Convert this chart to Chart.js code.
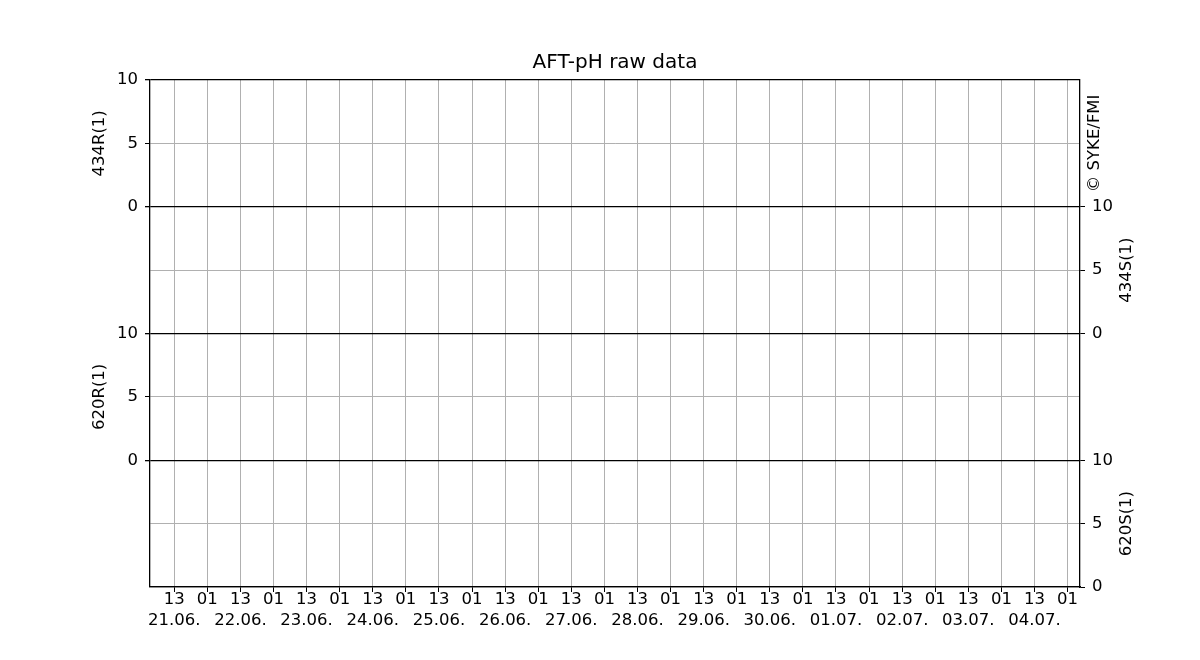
<!DOCTYPE html>
<html lang="en">
<head>
  <meta charset="UTF-8" />
  <title>AFT-pH raw data</title>
  <script src="https://cdn.jsdelivr.net/npm/chart.js"></script>
  <style>
    body {
      margin: 0;
      background-color: #ffffff;
    }

    .chart-container {
      width: 1200px;
      height: 660px;
    }
  </style>
</head>
<body>
  <div class="chart-container">
    <canvas id="phChart"></canvas>
  </div>

  <script>
    // panels from top to bottom, each one has its own 0..10 axis
    const panelNames = ["434R(1)", "434S(1)", "620R(1)", "620S(1)"];
    const panelSides = ["left", "right", "left", "right"];
    const panelTicks = [0, 5, 10];

    // raw data per panel (nothing was recorded in this period)
    const data434R = [];
    const data434S = [];
    const data620R = [];
    const data620S = [];

    // time axis in hours from 21.06. 00:00
    const xMin = 4.2;
    const xMax = 341.5;
    const tickHours = [13, 25, 37, 49, 61, 73, 85, 97, 109, 121, 133, 145, 157, 169,
                       181, 193, 205, 217, 229, 241, 253, 265, 277, 289, 301, 313, 325, 337];
    const hourLabels = ["13", "01"];
    const dateLabels = ["21.06.", "22.06.", "23.06.", "24.06.", "25.06.", "26.06.", "27.06.",
                        "28.06.", "29.06.", "30.06.", "01.07.", "02.07.", "03.07.", "04.07."];

    const FONT = "'DejaVu Sans', sans-serif";
    const GRID_GREY = "#b0b0b0";
    const nPanels = panelNames.length;
    const yTop = nPanels * 10;

    // which panel on a side owns a value of the stacked scale
    function panelLabel(side, v) {
      for (let i = 0; i < nPanels; i++) {
        if (panelSides[i] !== side) continue;
        const base = yTop - 10 * (i + 1);
        const t = v - base;
        if (t >= 0 && t <= 10 && panelTicks.includes(t)) return String(t);
      }
      return "";
    }

    const panelText = {
      id: "panelText",
      afterDraw(chart) {
        const ctx = chart.ctx;
        const y = chart.scales.yL;
        const area = chart.chartArea;
        ctx.save();
        ctx.font = "16.5px " + FONT;
        ctx.fillStyle = "#000";
        ctx.textAlign = "center";
        ctx.textBaseline = "middle";
        const put = (txt, x, yy) => {
          ctx.save();
          ctx.translate(x, yy);
          ctx.rotate(-Math.PI / 2);
          ctx.fillText(txt, 0, 0);
          ctx.restore();
        };
        panelNames.forEach((name, i) => {
          const mid = y.getPixelForValue(yTop - 10 * i - 5);
          const x = panelSides[i] === "left" ? area.left - 50 : area.right + 47;
          put(name, x, mid);
        });
        put("© SYKE/FMI", area.right + 15, y.getPixelForValue(yTop - 5));
        ctx.restore();
      }
    };

    const series = [data434R, data434S, data620R, data620S];

    new Chart(document.getElementById("phChart"), {
      type: "line",
      data: {
        datasets: series.map((d, i) => ({
          label: panelNames[i],
          data: d,
          yAxisID: panelSides[i] === "left" ? "yL" : "yR",
          borderColor: "#1f77b4",
          borderWidth: 1,
          pointRadius: 0
        }))
      },
      plugins: [panelText],
      options: {
        responsive: true,
        maintainAspectRatio: false,
        animation: false,
        layout: { padding: 0 },
        plugins: {
          legend: { display: false },
          tooltip: { enabled: false },
          title: {
            display: true,
            text: "AFT-pH raw data",
            color: "#000",
            fullSize: false,
            font: { family: FONT, size: 20, weight: "normal", lineHeight: 1.2 },
            padding: { top: 51, bottom: 5 }
          }
        },
        scales: {
          x: {
            type: "linear",
            min: xMin,
            max: xMax,
            afterBuildTicks: s => { s.ticks = tickHours.map(v => ({ value: v })); },
            afterFit: s => { s.height = 73; },
            ticks: {
              autoSkip: false,
              maxRotation: 0,
              padding: -3,
              color: "#000",
              font: { family: FONT, size: 16.5, lineHeight: 1.27 },
              callback: (v, i) => i % 2 === 0
                ? [hourLabels[0], dateLabels[i / 2]]
                : hourLabels[1]
            },
            grid: { color: GRID_GREY, lineWidth: 1, tickColor: "#000", tickLength: 5 },
            border: { color: "#000", width: 1.3 }
          },
          yL: {
            type: "linear",
            position: "left",
            min: 0,
            max: yTop,
            afterBuildTicks: s => {
              const t = [];
              for (let v = 0; v <= yTop; v += 5) t.push({ value: v });
              s.ticks = t;
            },
            afterFit: s => { s.width = 150; },
            ticks: {
              padding: 7,
              color: "#000",
              font: { family: FONT, size: 16.5 },
              callback: v => panelLabel("left", v)
            },
            grid: {
              color: c => c.tick && c.tick.value % 10 === 0 ? "#000" : GRID_GREY,
              lineWidth: c => c.tick && c.tick.value % 10 === 0 ? 1.3 : 1,
              tickColor: c => c.tick && panelLabel("left", c.tick.value) !== "" ? "#000" : "rgba(0,0,0,0)",
              tickLength: 5
            },
            border: { color: "#000", width: 1.3 }
          },
          yR: {
            type: "linear",
            position: "right",
            min: 0,
            max: yTop,
            afterBuildTicks: s => {
              const t = [];
              for (let v = 0; v <= yTop; v += 5) t.push({ value: v });
              s.ticks = t;
            },
            afterFit: s => { s.width = 120; },
            ticks: {
              padding: 7,
              color: "#000",
              font: { family: FONT, size: 16.5 },
              callback: v => panelLabel("right", v)
            },
            grid: {
              drawOnChartArea: false,
              color: "#000",
              tickColor: c => c.tick && panelLabel("right", c.tick.value) !== "" ? "#000" : "rgba(0,0,0,0)",
              tickLength: 5
            },
            border: { color: "#000", width: 1.3 }
          }
        }
      }
    });
  </script>
</body>
</html>
